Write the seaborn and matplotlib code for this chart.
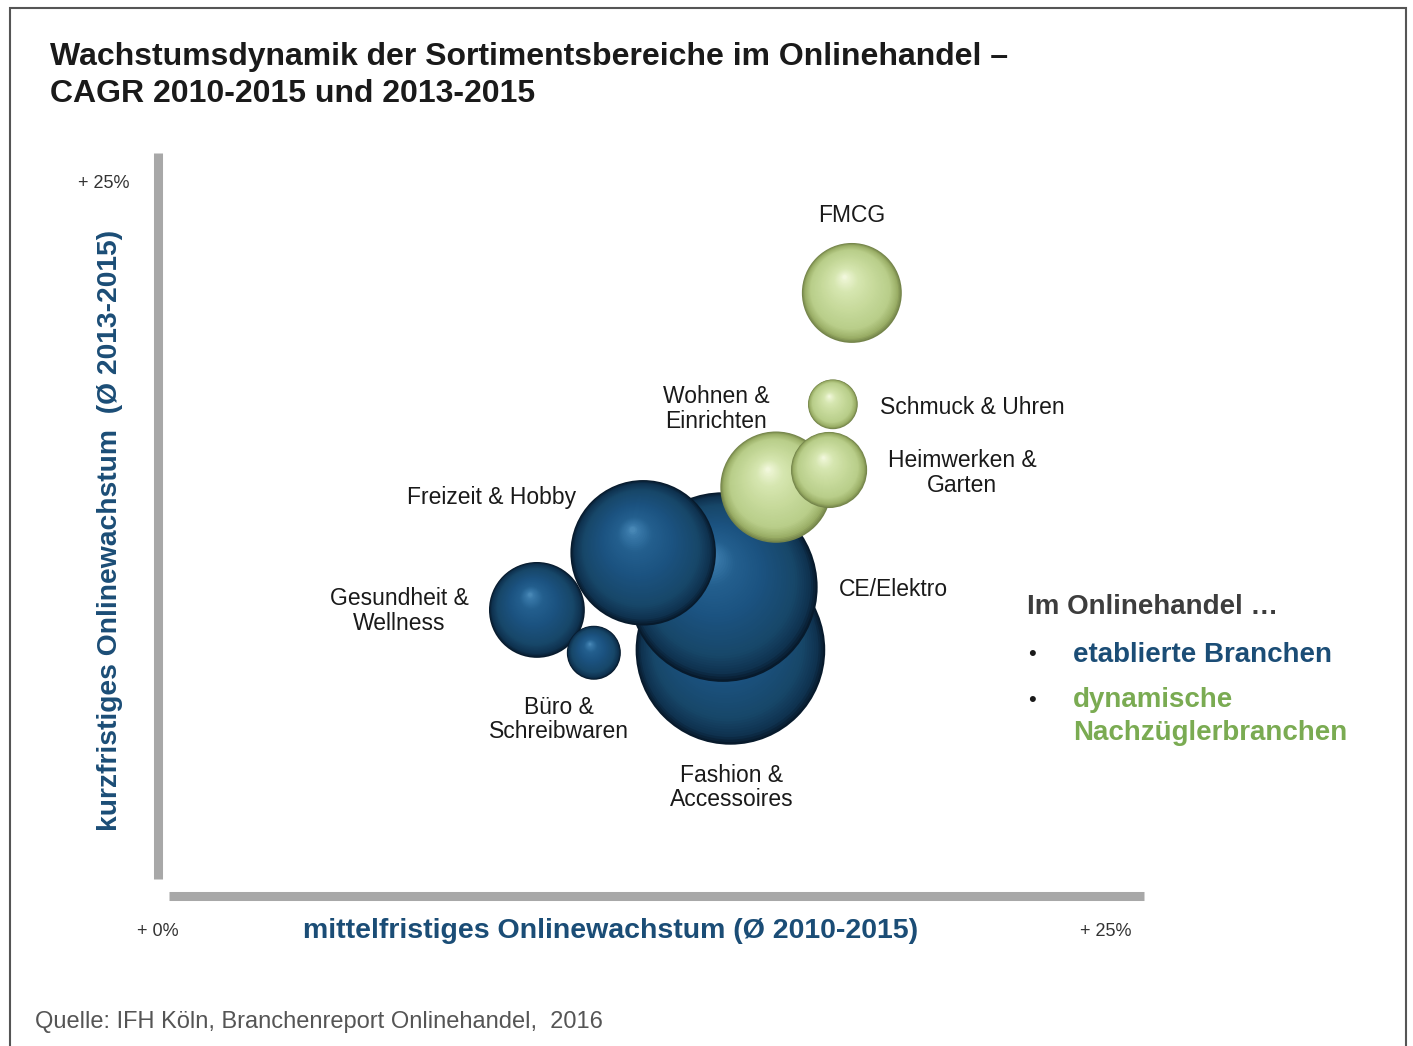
import numpy as np
import pandas as pd
import seaborn as sns
import matplotlib.pyplot as plt
from matplotlib.colors import LinearSegmentedColormap
from matplotlib.patches import Rectangle

#%% Daten (Reihenfolge = Zeichenreihenfolge von hinten nach vorne)
bereiche = ["Fashion &\nAccessoires", "CE/Elektro", "Freizeit & Hobby", "Gesundheit &\nWellness",
            "Büro &\nSchreibwaren", "Wohnen &\nEinrichten", "Heimwerken &\nGarten",
            "Schmuck & Uhren", "FMCG"]
cagr_2010_2015 = [15.1, 14.9, 12.8, 10.0, 11.5, 16.3, 17.7, 17.8, 18.3]   # mittelfristig, x
cagr_2013_2015 = [8.6, 10.8, 12.0, 10.0, 8.5, 14.3, 14.9, 17.2, 21.1]     # kurzfristig, y
umsatz = [9.0, 9.0, 5.3, 2.3, 0.73, 3.1, 1.45, 0.62, 2.5]                 # relative Blasenfläche
gruppe = ["etabliert"] * 5 + ["dynamisch"] * 4

df = pd.DataFrame({"bereich": bereiche, "x": cagr_2010_2015, "y": cagr_2013_2015,
                   "umsatz": umsatz, "gruppe": gruppe})

# label offsets in points (layout only)
label_pos = {
    "FMCG": ((0, 56), "center"),
    "Schmuck & Uhren": ((34, -2), "left"),
    "Wohnen &\nEinrichten": ((-43, 56), "center"),
    "Heimwerken &\nGarten": ((96, -2), "center"),
    "Freizeit & Hobby": ((-109, 40), "center"),
    "CE/Elektro": ((123, -2), "center"),
    "Gesundheit &\nWellness": ((-99, -1), "center"),
    "Büro &\nSchreibwaren": ((-25, -48), "center"),
    "Fashion &\nAccessoires": ((1, -99), "center"),
}

sns.set_theme(style="white")
plt.rcParams["font.family"] = ["Liberation Sans", "DejaVu Sans"]

BLUE_TXT = "#1b4d76"
GREEN_TXT = "#7aab52"

shade = {
    "etabliert": LinearSegmentedColormap.from_list("blau", [
        (0.0, "#071a2c"), (0.06, "#0f3250"), (0.2, "#174769"), (0.5, "#1b5280"),
        (0.75, "#235f8e"), (0.92, "#3a7aaa"), (1.0, "#5593c0")]),
    "dynamisch": LinearSegmentedColormap.from_list("gruen", [
        (0.0, "#74844a"), (0.06, "#9aae66"), (0.2, "#b9ce8a"), (0.5, "#c8db9d"),
        (0.75, "#d6e6b0"), (0.92, "#eaf3cf"), (1.0, "#f7fbe6")]),
}

W, H = 1413, 1046
fig = plt.figure(figsize=(W / 100, H / 100), dpi=100)
ax = fig.add_axes([157.5 / W, (H - 895.5) / H, 986.5 / W, 742.5 / H])
ax.set_xlim(0, 26)
ax.set_ylim(0, 26)

#%% Kugeln: konzentrische Schichten Richtung Glanzpunkt
t = np.linspace(0, 0.96, 48)
px_per_unit = 31.6
for z, row in enumerate(df.itertuples()):
    cx, cy = ax.transData.transform((row.x, row.y))
    r = px_per_unit * np.sqrt(row.umsatz)
    pts = ax.transData.inverted().transform(
        np.column_stack([cx - 0.15 * r * t, cy + 0.33 * r * t]))
    layers = pd.DataFrame({"x": pts[:, 0], "y": pts[:, 1]})
    sns.scatterplot(data=layers, x="x", y="y", ax=ax,
                    s=(2 * r * (1 - t) * 0.72) ** 2, c=shade[row.gruppe](t),
                    linewidth=0, edgecolor="none", zorder=3 + z, legend=False)

for row in df.itertuples():
    off, ha = label_pos[row.bereich]
    ax.annotate(row.bereich, xy=(row.x, row.y), xytext=off, textcoords="offset points",
                ha=ha, va="center", fontsize=16.5, color="#1a1a1a", linespacing=1.1,
                zorder=20)

#%% Achsen
for side in ["top", "right"]:
    ax.spines[side].set_visible(False)
ax.spines["left"].set_bounds(0.58, 26)
ax.spines["bottom"].set_bounds(0.3, 26)
for side in ["left", "bottom"]:
    ax.spines[side].set_linewidth(6.5)
    ax.spines[side].set_color("#a8a8a8")
    ax.spines[side].set_capstyle("butt")

ax.set_xticks([0, 25], ["+ 0%", "+ 25%"])
ax.set_yticks([25], ["+ 25%"])
ax.tick_params(length=0, labelsize=13, labelcolor="#333333", pad=20)
ax.grid(False)

ax.set_xlabel("mittelfristiges Onlinewachstum (Ø 2010-2015)", fontsize=20.5,
              fontweight="bold", color=BLUE_TXT)
ax.xaxis.set_label_coords(0.4597, -0.0478)
ax.xaxis.label.set_va("center")
ax.set_ylabel("kurzfristiges Onlinewachstum  (Ø 2013-2015)", fontsize=20.3,
              fontweight="bold", color=BLUE_TXT)
ax.yaxis.set_label_coords(-0.0481, 0.4923)
ax.yaxis.label.set_va("center")

#%% Titel, Legende, Quelle
fig.text(50 / W, 1 - 57 / H, "Wachstumsdynamik der Sortimentsbereiche im Onlinehandel –",
         fontsize=23, fontweight="bold", color="#1a1a1a", va="center")
fig.text(50 / W, 1 - 94 / H, "CAGR 2010-2015 und 2013-2015",
         fontsize=23, fontweight="bold", color="#1a1a1a", va="center")

fig.text(1027 / W, 1 - 607 / H, "Im Onlinehandel …", fontsize=20, fontweight="bold",
         color="#3d3d3d", va="center")
fig.text(1032 / W, 1 - 655 / H, "•", fontsize=16, color="#1a1a1a", va="center", ha="center")
fig.text(1032 / W, 1 - 700 / H, "•", fontsize=16, color="#1a1a1a", va="center", ha="center")
fig.text(1073 / W, 1 - 655 / H, "etablierte Branchen", fontsize=20, fontweight="bold",
         color=BLUE_TXT, va="center")
fig.text(1073 / W, 1 - 700 / H, "dynamische", fontsize=20, fontweight="bold",
         color=GREEN_TXT, va="center")
fig.text(1073 / W, 1 - 733 / H, "Nachzüglerbranchen", fontsize=20, fontweight="bold",
         color=GREEN_TXT, va="center")

fig.text(35 / W, 1 - 1022 / H, "Quelle: IFH Köln, Branchenreport Onlinehandel,  2016",
         fontsize=17, color="#555555", va="center")

fig.add_artist(Rectangle((10 / W, -0.05), 1396 / W, (H - 8) / H + 0.05,
                         transform=fig.transFigure, fill=False,
                         edgecolor="#555555", linewidth=1.5))

plt.savefig("out.png", dpi=100, facecolor="white")
